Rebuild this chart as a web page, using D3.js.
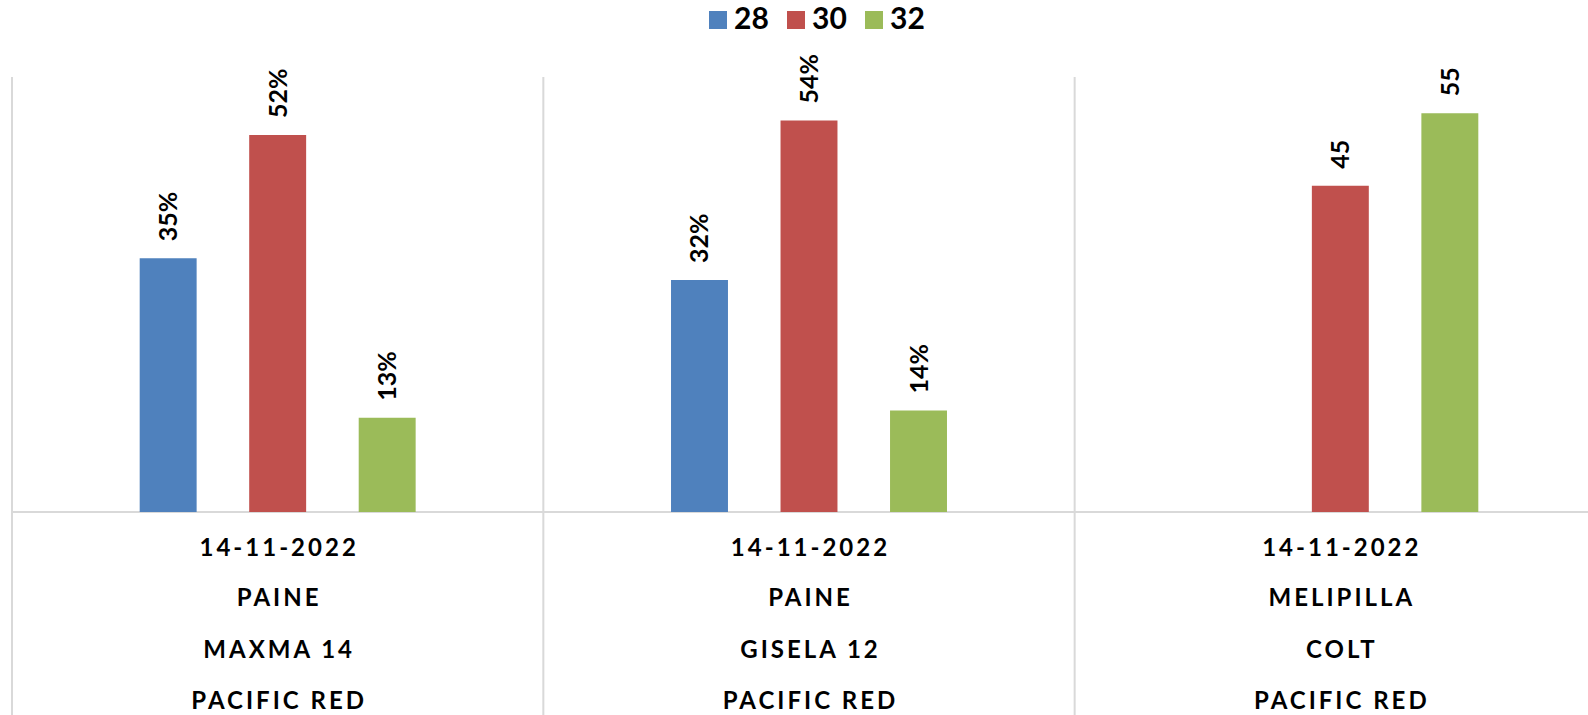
<!DOCTYPE html>
<html>
<head>
<meta charset="utf-8">
<script src="https://cdn.jsdelivr.net/npm/d3@7"></script>
<style>
  html, body { margin: 0; padding: 0; background: #fff; overflow: hidden; }
  svg { display: block; font-family: Lato, "Noto Sans", sans-serif; }
</style>
</head>
<body>
<svg id="chart" width="1588" height="715"></svg>
<script>
// ---- data ----
const categories = ["c1", "c2", "c3"];
const categoryLines = [
  ["14-11-2022", "PAINE", "MAXMA 14", "PACIFIC RED"],
  ["14-11-2022", "PAINE", "GISELA 12", "PACIFIC RED"],
  ["14-11-2022", "MELIPILLA", "COLT", "PACIFIC RED"]
];
const series = ["28", "30", "32"];
const values28 = [35, 32, null];
const values30 = [52, 54, 45];
const values32 = [13, 14, 55];
const labelSuffix = ["%", "%", ""];
const colors = ["#4f81bd", "#c0504d", "#9bbb59"];

const seriesValues = [values28, values30, values32];

// ---- layout ----
const svg = d3.select("#chart");
const plotLeft = 12, plotRight = 1606, plotTop = 77, plotBottom = 512;

const x0 = d3.scaleBand().domain(categories).range([plotLeft, plotRight]).padding(0);
const x1 = d3.scaleBand().domain(series).range([0, x0.bandwidth()])
  .paddingInner(0.48).paddingOuter(1.166);
const y = d3.scaleLinear().domain([0, 60]).range([plotBottom, plotTop]);

const grid = "#d9d9d9";

// vertical category dividers
const divs = categories.map(c => x0(c)).concat([x0(categories[categories.length - 1]) + x0.bandwidth()]);
svg.append("g").selectAll("line").data(divs).join("line")
  .attr("x1", d => d).attr("x2", d => d)
  .attr("y1", plotTop).attr("y2", 720)
  .attr("stroke", grid).attr("stroke-width", 2);

// baseline
svg.append("line")
  .attr("x1", plotLeft).attr("x2", plotRight)
  .attr("y1", y(0)).attr("y2", y(0))
  .attr("stroke", grid).attr("stroke-width", 2);

// bars
const flat = [];
categories.forEach((c, ci) => {
  series.forEach((s, si) => {
    const v = seriesValues[si][ci];
    if (v !== null && v !== undefined) flat.push({ c, ci, s, si, v });
  });
});

svg.append("g").selectAll("rect").data(flat).join("rect")
  .attr("x", d => x0(d.c) + x1(d.s))
  .attr("width", x1.bandwidth())
  .attr("y", d => y(d.v))
  .attr("height", d => y(0) - y(d.v))
  .attr("fill", d => colors[d.si]);

// data labels (rotated)
svg.append("g").selectAll("text").data(flat).join("text")
  .attr("transform", d => `translate(${x0(d.c) + x1(d.s) + x1.bandwidth() / 2},${y(d.v) - 17}) rotate(-90)`)
  .attr("dy", "0.36em")
  .attr("text-anchor", "start")
  .attr("font-size", 25)
  .attr("font-weight", 700)
  .attr("fill", "#000")
  .text(d => d.v + labelSuffix[d.ci]);

// category labels
const rowBaselines = [556, 606, 658, 709];
const cg = svg.append("g");
categories.forEach((c, ci) => {
  categoryLines[ci].forEach((t, ri) => {
    cg.append("text")
      .attr("x", x0(c) + x0.bandwidth() / 2 + 1.5)
      .attr("y", rowBaselines[ri])
      .attr("text-anchor", "middle")
      .attr("font-size", 24)
      .attr("font-weight", 700)
      .attr("letter-spacing", "3px")
      .attr("fill", "#000")
      .text(t);
  });
});

// legend
const legendX = [709, 787, 865];
const lg = svg.append("g");
series.forEach((s, i) => {
  lg.append("rect").attr("x", legendX[i]).attr("y", 11).attr("width", 18).attr("height", 18).attr("fill", colors[i]);
  lg.append("text").attr("x", legendX[i] + 25).attr("y", 29)
    .attr("font-size", 30).attr("font-weight", 700).attr("fill", "#000").text(s);
});
</script>
</body>
</html>
